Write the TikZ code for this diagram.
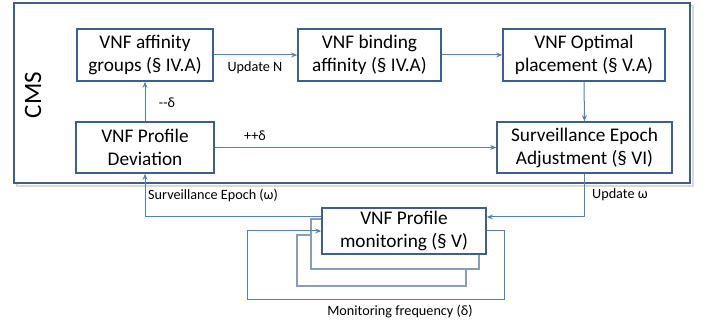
\documentclass[tikz,border=0pt]{standalone}
\usepackage{fontspec}
\setmainfont{Carlito}
\usetikzlibrary{positioning,arrows.meta}

\definecolor{boxblue}{HTML}{3C5F8E}
\definecolor{linkblue}{HTML}{4F81BD}
\definecolor{stackgray}{HTML}{8A9DB8}

\tikzset{
  block/.style={draw=boxblue, line width=1.7pt, fill=white, align=center,
    inner sep=0pt, font=\fontsize{19.3}{23}\selectfont},
  link/.style={draw=linkblue, line width=1pt, -{Stealth[length=6pt,width=5pt]}},
  lbl/.style={inner sep=1pt, font=\fontsize{14.2}{17}\selectfont}
}

\begin{document}
\begin{tikzpicture}[x=1pt,y=-1pt]
        \useasboundingbox (0,0) rectangle (709,328);

        % CMS frame
        \draw[black!15, line width=2pt] (17,6) rectangle (693,186);
        \draw[boxblue, line width=2.2pt, fill=white] (14,3) rectangle (690,183);
        \node[rotate=90, font=\fontsize{25}{30}\selectfont] (cms) at (33,95) {CMS};

        % CMS blocks
        \node[block, minimum width=136pt, minimum height=52pt] (groups) at (145,55) {VNF affinity\\groups (§ IV.A)};
        \node[block, minimum width=143pt, minimum height=52pt] (binding) at (369.5,55) {VNF binding\\affinity (§ IV.A)};
        \node[block, minimum width=162pt, minimum height=52pt] (placement) at (584,55) {VNF Optimal\\placement (§ V.A)};
        \node[block, minimum width=138pt, minimum height=51pt] (deviation) at (145,147.5) {VNF Profile\\Deviation};
        \node[block, minimum width=175pt, minimum height=51pt] (epoch) at (584.5,147.5) {Surveillance Epoch\\Adjustment (§ VI)};

        % Monitoring stack
        \draw[stackgray, line width=1.5pt, fill=white] (297,235) rectangle (466,286);
        \draw[stackgray, line width=1.5pt, fill=white] (311,219) rectangle (479,269);
        \node[block, minimum width=164pt, minimum height=46pt] (monitor) at (404,231) {VNF Profile\\monitoring (§ V)};

        % Links inside CMS
        \draw[link] (groups.east) -- (binding.west);
        \node[lbl] (updn) at (255,68) {Update N};
        \draw[link] (binding.east) -- (placement.west);
        \draw[link] (placement.south) -- (epoch.north);
        \draw[link] (deviation.north) -- (groups.south);
        \node[lbl] (dec) at (167,103) {{-}{-}δ};
        \draw[link] (deviation.east) -- (epoch.west);
        \node[lbl] (inc) at (255,136) {++δ};

        % Links outside CMS
        \draw[link] ([yshift=14pt]monitor.west) -| (deviation.south);
        \node[lbl, anchor=west] (survlbl) at (147,195) {Surveillance Epoch (ω)};
        \draw[link] (epoch.south) |- ([yshift=14pt]monitor.east);
        \node[lbl, anchor=west] (updw) at (591,195) {Update ω};

        % Monitoring loop
        \draw[link] (monitor.east) -- ++(18,0) -- ++(0,69) -- ++(-257,0) |- (monitor.west);
        \node[lbl] (freq) at (400,312) {Monitoring frequency (δ)};
\end{tikzpicture}
\end{document}
